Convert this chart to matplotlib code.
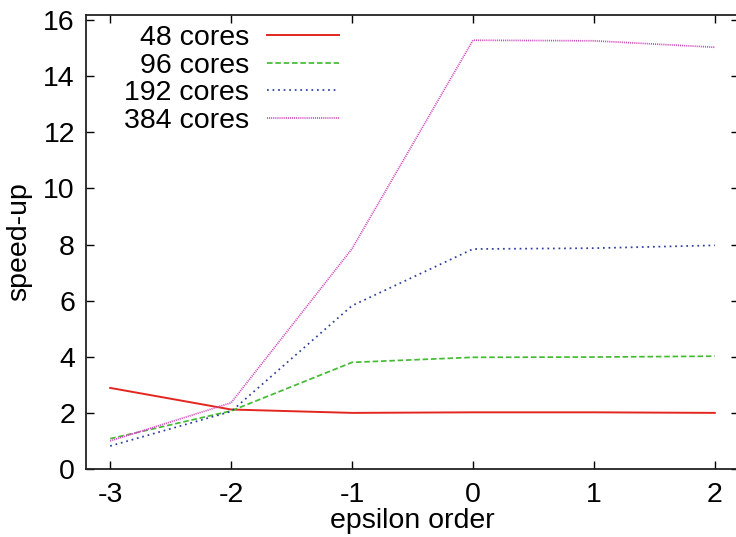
import matplotlib
matplotlib.use('Agg')
import matplotlib.pyplot as plt

# ── data ─────────────────────────────────────────────────────────────────────
eps_order = [-3, -2, -1, 0, 1, 2]
cores_48  = [2.89, 2.12, 2.00, 2.02, 2.02, 2.00]
cores_96  = [1.08, 2.07, 3.80, 3.98, 3.99, 4.02]
cores_192 = [0.82, 2.05, 5.82, 7.84, 7.87, 7.97]
cores_384 = [1.00, 2.36, 7.85, 15.28, 15.26, 15.03]

x_ticks = [-3, -2, -1, 0, 1, 2]
y_ticks = [0, 2, 4, 6, 8, 10, 12, 14, 16]

RED = '#e3261f'; GREEN = '#44bb33'; BLUE = '#2b3d9e'; MAGENTA = '#cc44bb'

plt.rcParams.update({'font.family': ['Liberation Sans', 'DejaVu Sans'],
                     'font.size': 20.5, 'axes.unicode_minus': False})

fig = plt.figure(figsize=(7.36, 5.37), dpi=100)
ax = fig.add_axes([86/736, 68/537, 653/736, 454/537])

lw = 1.25
ax.plot(eps_order, cores_48, color=RED, lw=1.4, label='48 cores')
ax.plot(eps_order, cores_96, color=GREEN, lw=lw, dashes=(3.2, 1.6), label='96 cores')
ax.plot(eps_order, cores_192, color=BLUE, lw=lw, dashes=(1.0, 2.2), label='192 cores')
ax.plot(eps_order, cores_384, color=MAGENTA, lw=lw, dashes=(0.6, 0.6), label='384 cores')

ax.set_xlim(-3.2, 2.2)
ax.set_ylim(0, 16.18)
ax.set_xticks(x_ticks)
ax.set_yticks(y_ticks)
ax.tick_params(direction='in', length=6, width=1, top=True, right=True,
               labeltop=False, labelright=False)
ax.tick_params(axis='x', pad=9)
ax.tick_params(axis='y', pad=8)
for s in ax.spines.values():
    s.set_linewidth(1.3)
    s.set_color('#222')

ax.set_xlabel('epsilon order', labelpad=0)
ax.set_ylabel('speed-up', labelpad=8)

ax.legend(loc='upper right', bbox_to_anchor=(0.388, 0.978), frameon=False,
          markerfirst=False, handlelength=2.55, handletextpad=0.62,
          labelspacing=0.06, borderpad=0, borderaxespad=0)

fig.savefig('out.png', dpi=100)
